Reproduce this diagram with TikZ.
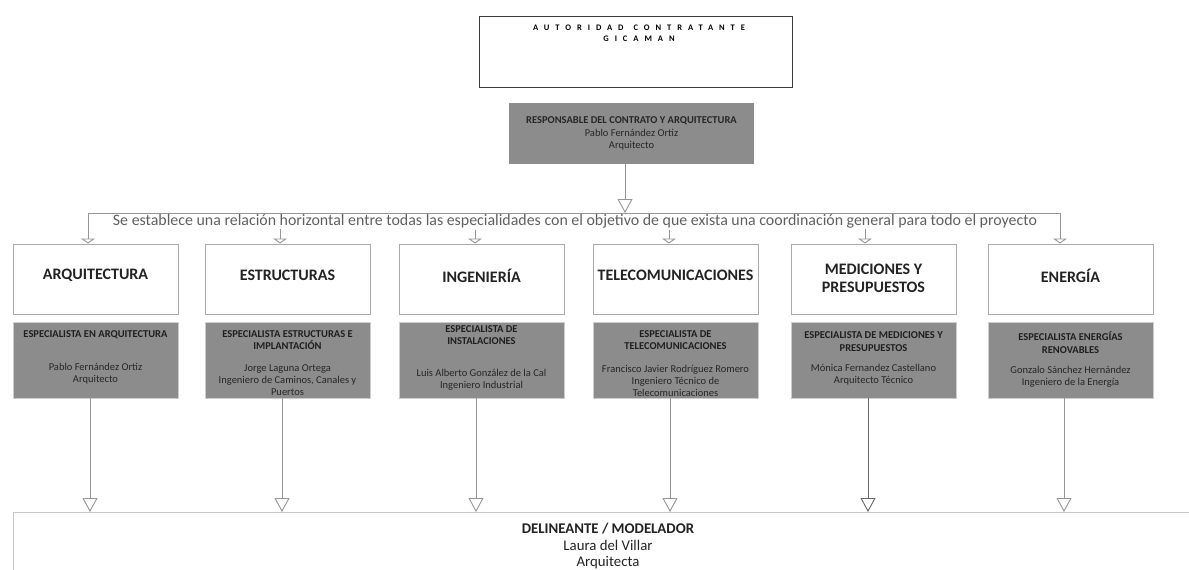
\documentclass[tikz,border=0pt]{standalone}
\usepackage{fontspec}
\setmainfont{Carlito}
\newfontfamily\spacedfont[LetterSpace=70]{Carlito}
\usetikzlibrary{arrows.meta}
\definecolor{boxgray}{RGB}{140,140,140}
\definecolor{linegray}{RGB}{150,150,150}
\definecolor{colborder}{RGB}{170,170,170}
\definecolor{grayborder}{RGB}{205,205,205}
\definecolor{topborder}{RGB}{60,60,60}
\definecolor{textgray}{RGB}{95,95,95}
\definecolor{titlecol}{RGB}{35,35,35}
\definecolor{bottomborder}{RGB}{200,200,200}
\begin{document}
\begin{tikzpicture}[x=1pt,y=-1pt,
  conn/.style={draw=linegray, line width=0.9pt},
  bigtip/.style={-{Triangle[open,length=14pt,width=15pt]}},
  smalltip/.style={-{Triangle[open,length=5pt,width=14pt]}},
  colbox/.style={draw=colborder, line width=1pt, fill=white, minimum width=165pt, minimum height=70pt, inner sep=0pt},
  coltext/.style={font=\fontsize{16}{18}\selectfont\bfseries, text=titlecol, align=center, inner sep=0pt},
  graybox/.style={fill=boxgray, draw=grayborder, line width=0.8pt, minimum width=165pt, minimum height=76pt, inner sep=0pt},
  gtitle/.style={font=\fontsize{10.5}{12.8}\selectfont\bfseries, text=black!88, align=center, inner sep=0pt},
  gtext/.style={font=\fontsize{10.5}{12}\selectfont, text=black!85, align=center, inner sep=0pt},
]
\path[use as bounding box] (0,0) rectangle (1189,570);
\clip (0,0) rectangle (1189,570);

% top box
\node[draw=topborder, line width=1pt, minimum width=313pt, minimum height=71pt, inner sep=0pt] (top) at (635.5,51.5) {};
\node[font=\spacedfont\bfseries\fontsize{8.5}{11}\selectfont, text=black, align=center, inner sep=0pt] (toptext) at (639,33.5) {AUTORIDAD\hspace{10pt}CONTRATANTE\\GICAMAN};

% responsible
\node[fill=boxgray, minimum width=245pt, minimum height=61pt, inner sep=0pt] (resp) at (631.5,133.5) {};
\node[gtext, font=\fontsize{10.5}{12.5}\selectfont] (resptext) at (631.5,133.5) {{\bfseries RESPONSABLE DEL CONTRATO Y ARQUITECTURA}\\Pablo Fernández Ortiz\\Arquitecto};

% horizontal relation
\coordinate (hl) at (88,213);
\coordinate (hr) at (1060,213);
\coordinate (hm) at (625,213);
\draw[conn] (hl) -- (hr);
\draw[conn,bigtip] (hm |- resp.south) -- (hm);
\node[font=\fontsize{15.9}{18}\selectfont, text=textgray, anchor=base, inner sep=0pt] (rel) at (575,225.5) {Se establece una relación horizontal entre todas las especialidades con el objetivo de que exista una coordinación general para todo el proyecto};

% column boxes
\node[colbox] (c1) at (95.5,279) {};
\node[colbox] (c2) at (287.5,279) {};
\node[colbox] (c3) at (481.5,279) {};
\node[colbox] (c4) at (675.5,279) {};
\node[colbox] (c5) at (873.5,279) {};
\node[colbox] (c6) at (1070.5,279) {};
\node[coltext] (t1) at (95.5,275) {ARQUITECTURA};
\node[coltext] (t2) at (287.5,275) {ESTRUCTURAS};
\node[coltext] (t3) at (481.5,276) {INGENIERÍA};
\node[coltext] (t4) at (675.5,275) {TELECOMUNICACIONES};
\node[coltext] (t5) at (873.5,278.5) {MEDICIONES Y\\PRESUPUESTOS};
\node[coltext] (t6) at (1070.5,276) {ENERGÍA};

% arrows into column boxes
\coordinate (a2) at (280,229);
\coordinate (a3) at (475,230);
\coordinate (a4) at (669,230);
\coordinate (a5) at (865,229);
\draw[conn,smalltip] (hl) -- (hl |- c1.north);
\draw[conn,smalltip] (a2) -- (a2 |- c2.north);
\draw[conn,smalltip] (a3) -- (a3 |- c3.north);
\draw[conn,smalltip] (a4) -- (a4 |- c4.north);
\draw[conn,smalltip] (a5) -- (a5 |- c5.north);
\draw[conn,smalltip] (hr) -- (hr |- c6.north);

% gray specialist boxes
\node[graybox] (g1) at (95.5,360) {};
\node[graybox] (g2) at (287.5,360) {};
\node[graybox] (g3) at (481.5,360) {};
\node[graybox] (g4) at (675.5,360) {};
\node[graybox] (g5) at (873.5,360) {};
\node[graybox] (g6) at (1070.5,360) {};

\node[gtitle] (s1) at (95.5,335) {ESPECIALISTA EN ARQUITECTURA};
\node[gtext] (d1) at (95.5,374) {Pablo Fernández Ortiz\\Arquitecto};
\node[gtitle] (s2) at (287.5,340) {ESPECIALISTA ESTRUCTURAS E\\IMPLANTACIÓN};
\node[gtext] (d2) at (287.5,380) {Jorge Laguna Ortega\\Ingeniero de Caminos, Canales y\\Puertos};
\node[gtitle] (s3) at (481.5,335) {ESPECIALISTA DE\\INSTALACIONES};
\node[gtext] (d3) at (481.5,380) {Luis Alberto González de la Cal\\Ingeniero Industrial};
\node[gtitle] (s4) at (675.5,340) {ESPECIALISTA DE\\TELECOMUNICACIONES};
\node[gtext] (d4) at (675.5,380.5) {Francisco Javier Rodríguez Romero\\Ingeniero Técnico de\\Telecomunicaciones};
\node[gtitle] (s5) at (873.5,341.5) {ESPECIALISTA DE MEDICIONES Y\\PRESUPUESTOS};
\node[gtext] (d5) at (873.5,374.5) {Mónica Fernandez Castellano\\Arquitecto Técnico};
\node[gtitle] (s6) at (1070.5,342.5) {ESPECIALISTA ENERGÍAS\\RENOVABLES};
\node[gtext] (d6) at (1070.5,376.5) {Gonzalo Sánchez Hernández\\Ingeniero de la Energía};

% bottom box
\node[draw=bottomborder, line width=1pt, minimum width=1200pt, minimum height=100pt, anchor=north west, inner sep=0pt] (delin) at (13,512) {};
\node[font=\fontsize{14.8}{16.2}\selectfont, text=titlecol, align=center, inner sep=0pt] (delintext) at (608,546) {{\bfseries DELINEANTE / MODELADOR}\\Laura del Villar\\Arquitecta};

% arrows into bottom box
\coordinate (b1) at (90,0);
\coordinate (b2) at (282,0);
\coordinate (b3) at (476,0);
\coordinate (b4) at (670,0);
\coordinate (b5) at (868,0);
\coordinate (b6) at (1064,0);
\draw[conn,bigtip] (b1 |- g1.south) -- (b1 |- delin.north);
\draw[conn,bigtip] (b2 |- g2.south) -- (b2 |- delin.north);
\draw[conn,bigtip] (b3 |- g3.south) -- (b3 |- delin.north);
\draw[conn,bigtip] (b4 |- g4.south) -- (b4 |- delin.north);
\draw[conn,bigtip, draw=black!60] (b5 |- g5.south) -- (b5 |- delin.north);
\draw[conn,bigtip] (b6 |- g6.south) -- (b6 |- delin.north);
\end{tikzpicture}
\end{document}
